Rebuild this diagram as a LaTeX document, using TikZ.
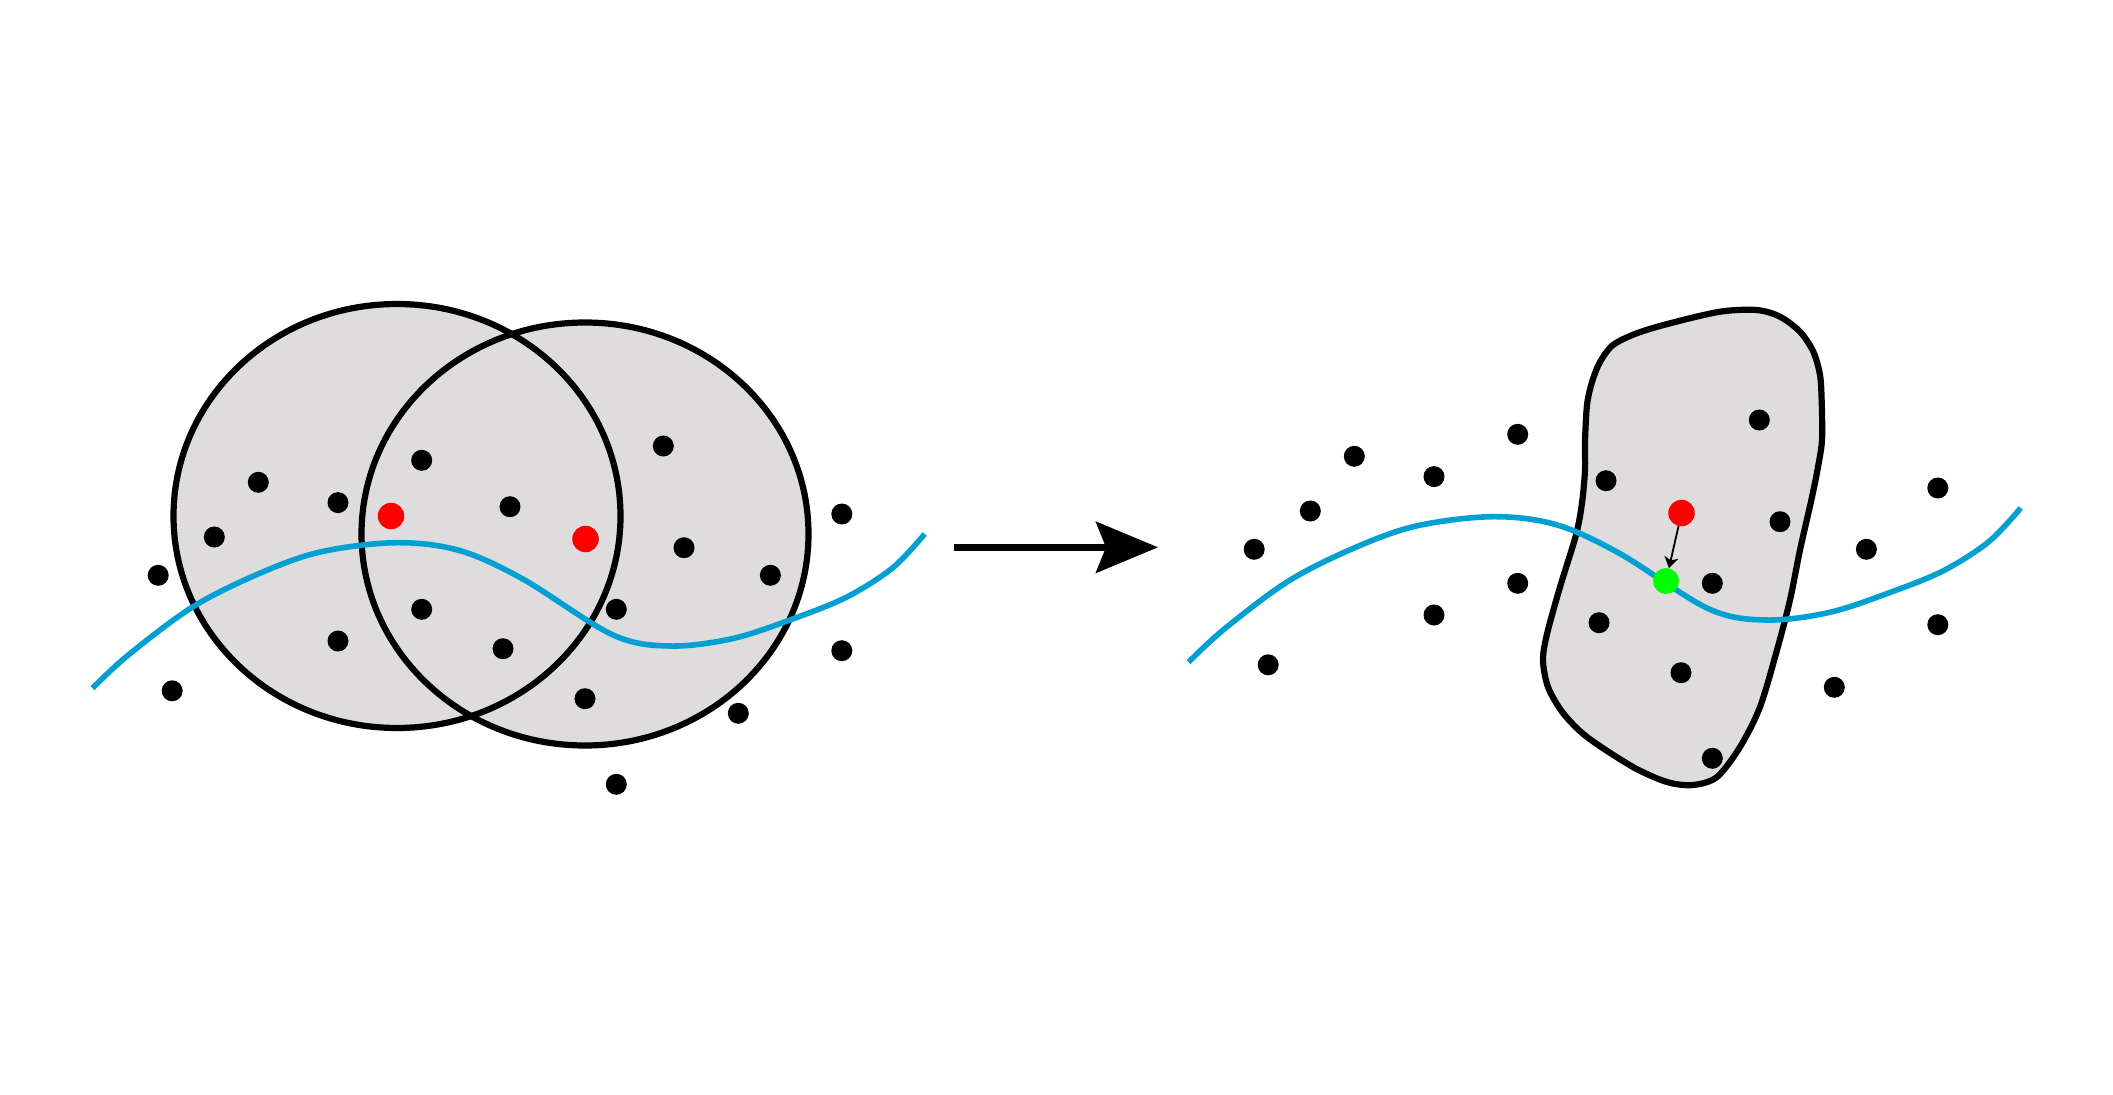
\documentclass[tikz,border=0pt]{standalone}
\usetikzlibrary{arrows.meta}
\definecolor{regiongray}{RGB}{222,220,221}
\definecolor{curveblue}{RGB}{0,160,210}
\definecolor{hotred}{RGB}{255,0,0}
\definecolor{hotgreen}{RGB}{0,255,0}
\tikzset{
  dot/.style={circle,fill=black,inner sep=0pt,minimum size=21pt},
  reddot/.style={circle,fill=hotred,inner sep=0pt,minimum size=26.5pt},
  greendot/.style={circle,fill=hotgreen,inner sep=0pt,minimum size=26pt},
  region/.style={fill=regiongray},
  outline/.style={draw=black,line width=6.2pt},
  manifold/.style={draw=curveblue,line width=5.6pt},
}
\newcommand{\curvepts}{(92.5,688.2) (127.6,655.6) (191.3,607.8) (255.1,575.3) (318.9,552.3) (395.4,542.7) (459.2,550.4) (523,579.1) (612.2,634.6) (669.6,646) (733.4,638.4) (797.2,617.3) (848.2,596.3) (892.9,567.6) (924.7,534)}
\newcommand{\blackdots}{(421.7,460.3),(510,506.7),(663.3,446),(684,547.7),(421.7,609.3),(616.3,609.3),(503,648.7),(585,698.7),(616.3,784.3),(738.3,713.3),(258.3,482.3),(338,502.6),(770.4,575.3),(841.8,514),(214.3,537),(158.2,575.3),(172.2,690.8),(338,641),(841.8,650.7)}
\begin{document}
\begin{tikzpicture}[x=1pt,y=-1pt]
\useasboundingbox (0,0) rectangle (2113,1095);
% ---------------- left scene ----------------
\fill[region] (397,516) ellipse [x radius=223.5,y radius=212];
\fill[region] (585,534) ellipse [x radius=223.5,y radius=211.5];
\draw[outline] (397,516) ellipse [x radius=223.5,y radius=212];
\draw[outline] (585,534) ellipse [x radius=223.5,y radius=211.5];
\draw[manifold] plot[smooth,tension=0.55] coordinates {\curvepts};
\foreach \p [count=\i] in \blackdots \node[dot] (L\i) at \p {};
\node[reddot] (Lr1) at (391,516) {};
\node[reddot] (Lr2) at (585.5,539) {};
% ---------------- arrow ----------------
\coordinate (a0) at (954,547.3);
\coordinate (a1) at (1158,547.3);
\draw[line width=6.7pt,-{Stealth[length=62pt,width=51pt,inset=10pt]}] (a0) -- (a1);
% ---------------- right scene ----------------
\fill[region,outline] plot[smooth cycle,tension=0.5] coordinates {
 (1670,323.3) (1720,311.7) (1756.7,310) (1780,316.7) (1800,331.7) (1813.3,351.7) (1820,375)
 (1821.7,402) (1822,440) (1818,467) (1812,497)
 (1800,550) (1790,600) (1777,650) (1760,707) (1740,747) (1717,777) (1693,785) (1667,782)
 (1633,767) (1587,737) (1563,713) (1548,687) (1543,660) (1547,634) (1560,587) (1576,535)
 (1582,503) (1585,470) (1585,441.7) (1587,405) (1592,382) (1600,362) (1613,345) (1636.7,333.3)};
\begin{scope}[shift={(1096,-26)}]
\draw[manifold] plot[smooth,tension=0.55] coordinates {\curvepts};
\foreach \p [count=\i] in \blackdots \node[dot] (R\i) at \p {};
\node[reddot] (Rr) at (585.5,539) {};
\node[greendot] (Rg) at (570,607) {};
\draw[line width=1.8pt,-{Stealth[length=11pt,width=14pt,inset=3pt]}] (Rr) -- (Rg);
\end{scope}
\end{tikzpicture}
\end{document}
